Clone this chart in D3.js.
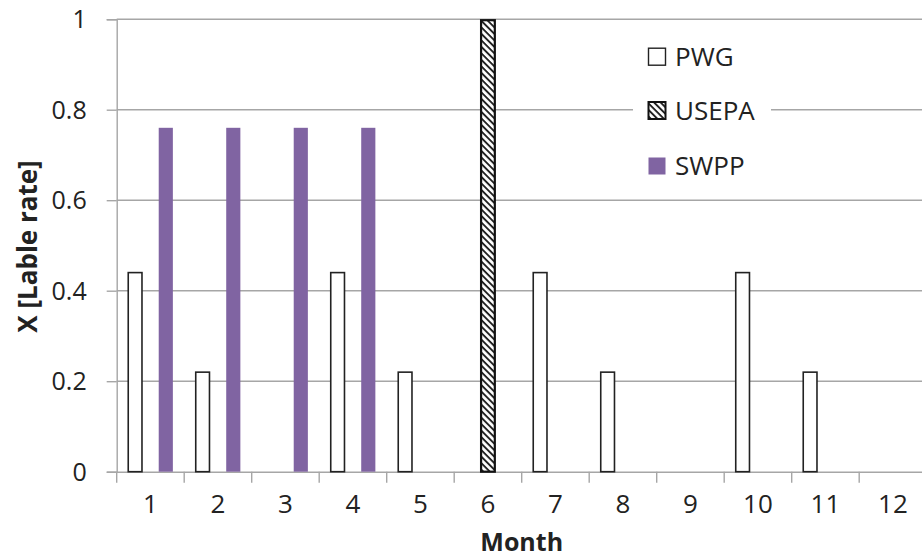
<!DOCTYPE html>
<html>
<head>
<meta charset="utf-8">
<script src="https://cdn.jsdelivr.net/npm/d3@7"></script>
<style>
  html, body { margin: 0; padding: 0; background: #fff; }
  svg { display: block; font-family: "Open Sans", sans-serif; }
</style>
</head>
<body>
<svg id="chart" width="922" height="559"></svg>
<script>
// ---- data ----
const months = ["1","2","3","4","5","6","7","8","9","10","11","12"];
const seriesNames = ["PWG", "USEPA", "SWPP"];
const pwg   = [0.44, 0.22, null, 0.44, 0.22, null, 0.44, 0.22, null, 0.44, 0.22, null];
const usepa = [null, null, null, null, null, 1.0, null, null, null, null, null, null];
const swpp  = [0.76, 0.76, 0.76, 0.76, null, null, null, null, null, null, null, null];
const yTicks = [0, 0.2, 0.4, 0.6, 0.8, 1];
const yTickLabels = ["0", "0.2", "0.4", "0.6", "0.8", "1"];
const yTitle = "X [Lable rate]";
const xTitle = "Month";

const seriesValues = { PWG: pwg, USEPA: usepa, SWPP: swpp };

// ---- layout ----
const svg = d3.select("#chart");
const mLeft = 116.7, mTop = 19.2, plotH = 452.5, plotW = 810;
const gridColor = "#a6a6a6";

const x0 = d3.scaleBand().domain(months).range([mLeft, mLeft + plotW]).paddingInner(0).paddingOuter(0);
const x1 = d3.scaleBand().domain(seriesNames).range([0, x0.bandwidth()]).paddingInner(0).paddingOuter(0.7);
const y = d3.scaleLinear().domain([0, 1]).range([mTop + plotH, mTop]);

// hatch pattern
const defs = svg.append("defs");
const pat = defs.append("pattern")
  .attr("id", "hatch").attr("patternUnits", "userSpaceOnUse")
  .attr("width", 4.6).attr("height", 4.6)
  .attr("patternTransform", "rotate(45)");
pat.append("rect").attr("width", 4.6).attr("height", 4.6).attr("fill", "#fff");
pat.append("rect").attr("width", 4.6).attr("height", 1.9).attr("fill", "#222");

// gridlines
svg.append("g").selectAll("line").data(yTicks.filter(d => d > 0)).join("line")
  .attr("x1", mLeft).attr("x2", mLeft + plotW)
  .attr("y1", d => y(d)).attr("y2", d => y(d))
  .attr("stroke", gridColor).attr("stroke-width", 1.4);

// y axis
const yAxis = d3.axisLeft(y).tickValues(yTicks).tickSize(10).tickPadding(20)
  .tickFormat((d, i) => yTickLabels[i]);
const gy = svg.append("g").attr("transform", `translate(${mLeft},0)`).call(yAxis);
gy.select(".domain").attr("stroke", gridColor).attr("stroke-width", 1.4);
gy.selectAll(".tick line").attr("stroke", gridColor).attr("stroke-width", 1.4);
gy.selectAll(".tick text").attr("font-size", 25).attr("fill", "#222")
  .attr("font-family", "Open Sans, sans-serif").attr("dy", "0.34em");

// x axis
const xAxis = d3.axisBottom(x0).tickSize(0).tickPadding(30);
const gx = svg.append("g").attr("transform", `translate(0,${mTop + plotH})`).call(xAxis);
gx.select(".domain").attr("stroke", gridColor).attr("stroke-width", 1.4);
gx.selectAll(".tick text").attr("font-size", 26).attr("fill", "#222")
  .attr("font-family", "Open Sans, sans-serif").attr("dy", "0.45em");
// category boundary ticks
const boundaries = months.map(m => x0(m)).concat([x0(months[months.length - 1]) + x0.bandwidth()]);
gx.append("g").selectAll("line").data(boundaries).join("line")
  .attr("x1", d => d).attr("x2", d => d).attr("y1", 0).attr("y2", 11)
  .attr("stroke", gridColor).attr("stroke-width", 1.4);

// bars
const barData = [];
seriesNames.forEach(s => {
  seriesValues[s].forEach((v, i) => {
    if (v !== null) barData.push({ series: s, month: months[i], value: v });
  });
});
const styles = {
  PWG:   { fill: "#fff", stroke: "#222", sw: 1.6 },
  USEPA: { fill: "url(#hatch)", stroke: "#111", sw: 2.2 },
  SWPP:  { fill: "#8064a2", stroke: "none", sw: 0 }
};
svg.append("g").selectAll("rect").data(barData).join("rect")
  .attr("x", d => x0(d.month) + x1(d.series) + (d.series === "SWPP" ? 0.6 : 0.8))
  .attr("width", d => x1.bandwidth() - (d.series === "SWPP" ? 1.2 : 1.6))
  .attr("y", d => y(d.value) + (d.series === "USEPA" ? 1 : 0))
  .attr("height", d => y(0) - y(d.value) - (d.series === "USEPA" ? 1 : 0))
  .attr("fill", d => styles[d.series].fill)
  .attr("stroke", d => styles[d.series].stroke)
  .attr("stroke-width", d => styles[d.series].sw);

// legend
const lg = svg.append("g");
lg.append("rect").attr("x", 633).attr("y", 30).attr("width", 138).attr("height", 160).attr("fill", "#fff");
const rowY = [56.7, 110.5, 166];
seriesNames.forEach((s, i) => {
  const st = styles[s];
  lg.append("rect").attr("x", 648.5).attr("y", rowY[i] - 8.5).attr("width", 17).attr("height", 17)
    .attr("fill", st.fill).attr("stroke", st.stroke)
    .attr("stroke-width", s === "SWPP" ? 0 : (s === "USEPA" ? 2 : 1.4));
  lg.append("text").attr("x", 675).attr("y", rowY[i]).attr("dy", "0.36em")
    .attr("font-size", 26).attr("fill", "#222").text(s);
});

// titles
svg.append("text").attr("x", mLeft + plotW / 2).attr("y", 542).attr("dy", "0.36em")
  .attr("text-anchor", "middle").attr("font-size", 25).attr("font-weight", "bold").attr("fill", "#222")
  .text(xTitle);
svg.append("text").attr("transform", `translate(28,${mTop + plotH / 2 + 1}) rotate(-90)`)
  .attr("dy", "0.36em").attr("text-anchor", "middle").attr("font-size", 26).attr("font-weight", "bold")
  .attr("fill", "#222").text(yTitle);
</script>
</body>
</html>
